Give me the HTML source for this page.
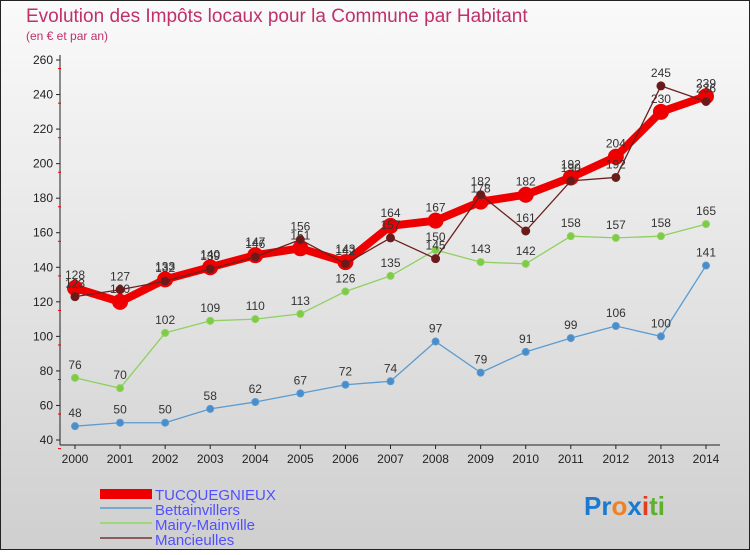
<!DOCTYPE html>
<html><head><meta charset="utf-8"><style>
body{margin:0;width:750px;height:550px;overflow:hidden;font-family:"Liberation Sans",sans-serif}
</style></head><body>
<svg width="750" height="550" xmlns="http://www.w3.org/2000/svg">
<defs><linearGradient id="bg" x1="0" y1="0" x2="0" y2="1"><stop offset="0" stop-color="#fafafa"/><stop offset="1" stop-color="#cfcfcf"/></linearGradient></defs>
<rect x="0.5" y="0.5" width="749" height="549" fill="url(#bg)" stroke="#222"/>
<text x="26" y="22" font-size="19" fill="#c0306a">Evolution des Impôts locaux pour la Commune par Habitant</text>
<text x="26" y="40" font-size="12" fill="#c0306a">(en € et par an)</text>
<g id="axes"></g><g id="series"></g>
<g font-size="15" fill="#5050ff">
<rect x="100" y="489" width="52" height="10" fill="#e00"/>
<text x="155" y="500">TUCQUEGNIEUX</text>
<rect x="100" y="507" width="52" height="2" fill="#7aa8cc"/>
<text x="155" y="515">Bettainvillers</text>
<rect x="100" y="522" width="52" height="2" fill="#9ed87a"/>
<text x="155" y="530">Mairy-Mainville</text>
<rect x="100" y="537" width="52" height="2" fill="#8b5c5c"/>
<text x="155" y="545">Mancieulles</text>
</g>
<text x="584" y="515" font-size="26" font-weight="bold"><tspan fill="#1a7ad0">Pr</tspan><tspan fill="#f08020">o</tspan><tspan fill="#1a7ad0">x</tspan><tspan fill="#e04020">i</tspan><tspan fill="#60b030">ti</tspan></text>
</svg>
<script>
const years=[2000,2001,2002,2003,2004,2005,2006,2007,2008,2009,2010,2011,2012,2013,2014];
const yTicks=[40,60,80,100,120,140,160,180,200,220,240,260];
const tucq=[128,120,133,140,147,151,143,164,167,178,182,192,204,230,239];
const bett=[48,50,50,58,62,67,72,74,97,79,91,99,106,100,141];
const mairy=[76,70,102,109,110,113,126,135,150,143,142,158,157,158,165];
const manc=[123,127,132,139,146,156,142,157,145,182,161,190,192,245,236];
const NS="http://www.w3.org/2000/svg";
const x=i=>75+i*(706-75)/(years.length-1);
const y=v=>440-(v-40)*(380/220);
function mk(t,a,p){const e=document.createElementNS(NS,t);for(const k in a)e.setAttribute(k,a[k]);p.appendChild(e);return e;}
const ax=document.getElementById('axes');
mk('line',{x1:60,y1:55,x2:60,y2:445,stroke:'#222','stroke-width':1},ax);
mk('line',{x1:60,y1:445,x2:720,y2:445,stroke:'#222','stroke-width':1},ax);
yTicks.forEach(t=>{const yy=y(t);
mk('line',{x1:56,y1:yy,x2:60,y2:yy,stroke:'#222'},ax);
mk('line',{x1:58,y1:yy+8.6,x2:61,y2:yy+8.6,stroke:'#e00'},ax);
const tx=mk('text',{x:53,y:yy+4,'font-size':12,'text-anchor':'end',fill:'#222'},ax);


tx.textContent=t;});
years.forEach((yr,i)=>{mk('line',{x1:x(i),y1:445,x2:x(i),y2:449,stroke:'#222'},ax);
const tx=mk('text',{x:x(i),y:463,'font-size':12,'text-anchor':'middle',fill:'#222'},ax);


tx.textContent=yr;});
const sg=document.getElementById('series');
function series(data,name,color,w,r,fill){
const g=mk('g',{},sg);


mk('polyline',{points:data.map((v,i)=>x(i)+','+y(v)).join(' '),fill:'none',stroke:color,'stroke-width':w,'stroke-linejoin':'round'},g);
data.forEach((v,i)=>{const c=mk('circle',{cx:x(i),cy:y(v),r:r,fill:fill,stroke:color,'stroke-width':1},g);


const t=mk('text',{x:x(i),y:y(v)-9,'font-size':12,'text-anchor':'middle',fill:'#333'},g);


t.textContent=v;});}
series(bett,'bettainvillers-line','#5b9bd0',1.3,3.5,'#4a8ccc');
series(mairy,'mairy-mainville-line','#8fd060',1.3,3.5,'#7ccc44');
series(tucq,'tucquegnieux-line','#ee0000',8,7.5,'#ee0000');
series(manc,'mancieulles-line','#6b2020',1.3,4,'#6b1a1a');
</script>
</body></html>
